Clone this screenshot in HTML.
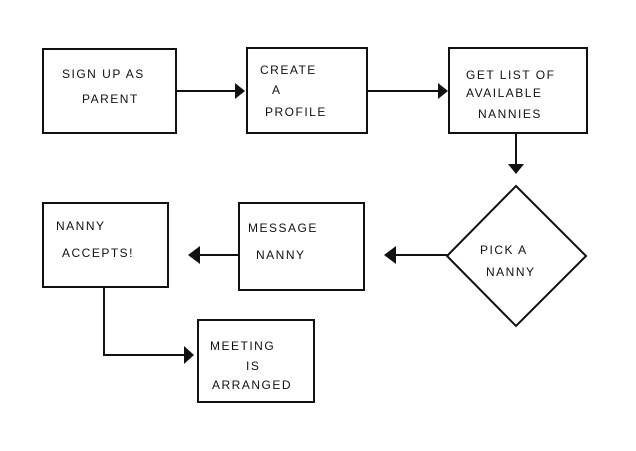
<!DOCTYPE html>
<html><head><style>
html,body{margin:0;padding:0;background:#fff;}
svg text{font-family:"Liberation Sans",sans-serif;font-size:12px;fill:#111;letter-spacing:1.5px;}
</style></head><body>
<svg width="636" height="446" viewBox="0 0 636 446" xmlns="http://www.w3.org/2000/svg">
<rect width="636" height="446" fill="#fff"/>
<g fill="none" stroke="#111" stroke-width="2">
<rect x="43" y="49" width="133" height="84"/>
<rect x="247" y="48" width="120" height="85"/>
<rect x="449" y="48" width="138" height="85"/>
<polygon points="516,186 586,256 516,326 447,256"/>
<rect x="239" y="203" width="125" height="87"/>
<rect x="43" y="203" width="125" height="84"/>
<rect x="198" y="320" width="116" height="82"/>
<line x1="176" y1="91" x2="235" y2="91"/>
<line x1="367" y1="91" x2="438" y2="91"/>
<line x1="516" y1="133" x2="516" y2="165"/>
<line x1="447" y1="255" x2="395" y2="255"/>
<line x1="239" y1="255" x2="200" y2="255"/>
<polyline points="104,287 104,355 186,355"/>
</g>
<g fill="#111">
<polygon points="235,83 245,91 235,99"/>
<polygon points="438,83 448,91 438,99"/>
<polygon points="508,164 524,164 516,174"/>
<polygon points="396,246 384,255 396,264"/>
<polygon points="200,246 188,255 200,264"/>
<polygon points="184,346 194,355 184,364"/>
</g>
<text x="62" y="78">SIGN UP AS</text>
<text x="82" y="103">PARENT</text>
<text x="260" y="74">CREATE</text>
<text x="272" y="94">A</text>
<text x="265" y="116">PROFILE</text>
<text x="466" y="79">GET LIST OF</text>
<text x="466" y="97">AVAILABLE</text>
<text x="478" y="118">NANNIES</text>
<text x="248" y="232">MESSAGE</text>
<text x="256" y="259">NANNY</text>
<text x="56" y="230">NANNY</text>
<text x="62" y="257">ACCEPTS!</text>
<text x="480" y="254">PICK A</text>
<text x="486" y="276">NANNY</text>
<text x="210" y="350">MEETING</text>
<text x="246" y="370">IS</text>
<text x="212" y="389">ARRANGED</text>
</svg>
</body></html>
